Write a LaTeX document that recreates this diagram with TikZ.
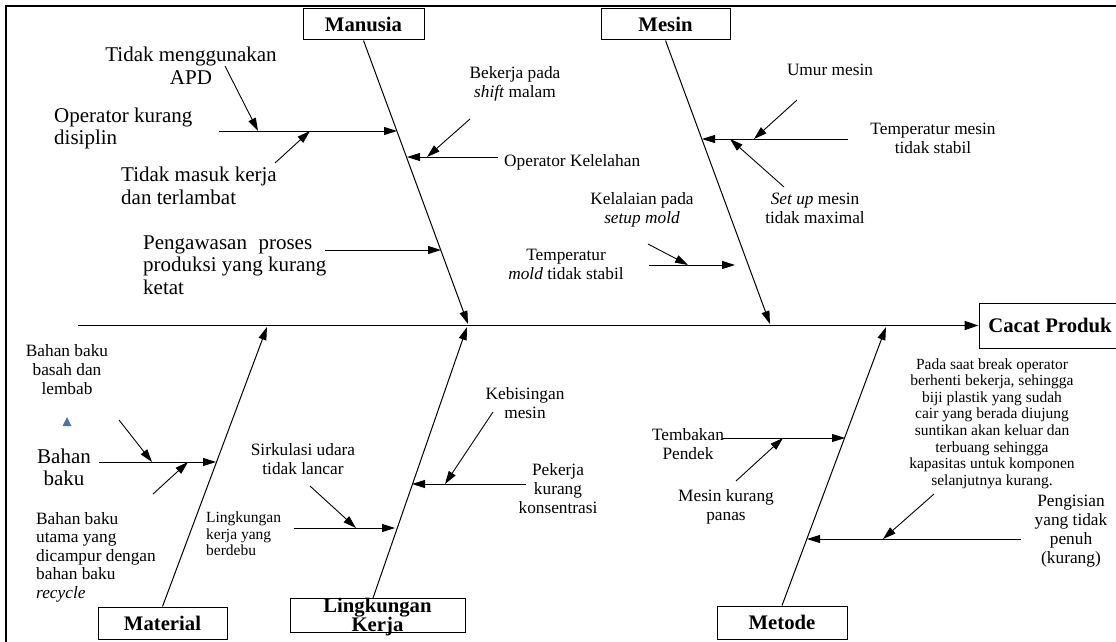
\documentclass[tikz,border=0pt]{standalone}
\usepackage{fontspec}
\setmainfont{Liberation Serif}
\usetikzlibrary{arrows.meta}
\definecolor{tri}{RGB}{68,114,196}
\begin{document}
\begin{tikzpicture}[x=1pt,y=-1pt,
  big/.style={inner sep=0pt,font=\fontsize{21}{22.5}\selectfont},
  med/.style={inner sep=0pt,font=\fontsize{17.3}{19}\selectfont},
  sml/.style={inner sep=0pt,font=\fontsize{15.5}{16.6}\selectfont},
  catbox/.style={draw,line width=1pt,inner sep=0pt,font=\bfseries\fontsize{20.7}{20}\selectfont},
  bone/.style={line width=1pt,-{Triangle[length=13pt,width=8pt]}},
  arr/.style={line width=0.9pt,-{Triangle[length=13pt,width=8pt]}},
  plain/.style={line width=0.9pt}
]
\useasboundingbox (0,0) rectangle (1116,642);
\clip (0,0) rectangle (1116,642);
% frame
\draw[line width=2.3pt] (1130,6.2) -- (6.2,6.2) -- (6.2,660);

% category boxes
\node[catbox,minimum width=121pt,minimum height=31pt] (man) at (363.5,24.5) {Manusia};
\node[catbox,minimum width=129pt,minimum height=31pt] (mes) at (665.5,24.5) {Mesin};
\node[catbox,minimum width=129pt,minimum height=32pt] (mat) at (162.5,623) {Material};
\node[draw,line width=1pt,inner sep=0pt,minimum width=175pt,minimum height=34pt] (lin) at (377.5,615) {};
\node[inner sep=0pt,align=center,font=\bfseries\fontsize{20.7}{19.5}\selectfont] (linT) at (377.5,617) {Lingkungan\\Kerja};
\node[catbox,minimum width=130pt,minimum height=33pt] (met) at (782,622.5) {Metode};
\node[catbox,minimum width=142pt,minimum height=45pt] (cacat) at (1050,325.5) {Cacat Produk};

% spine
\coordinate (sp0) at (78,325.5);
\draw[line width=1.8pt,-{Triangle[length=14pt,width=9pt]}] (sp0) -- (cacat.west);

% bones
\coordinate (manT) at (468,324);
\coordinate (mesT) at (770,324);
\coordinate (matT) at (267,327);
\coordinate (linB) at (373,598);
\coordinate (linTip) at (467,327);
\coordinate (metT) at (886,327);
\draw[bone] (man.south) -- (manT);
\draw[bone] (mes.south) -- (mesT);
\draw[bone] (mat.north) -- (matT);
\draw[bone] (linB) -- (linTip);
\draw[bone] (met.north) -- (metT);

% ---------- Manusia ----------
\node[big,align=center] (t1) at (191,65.5) {Tidak menggunakan\\APD};
\node[big,align=left,anchor=west] (t2) at (54,128.5) {Operator kurang\\disiplin};
\node[big,align=left,anchor=west] (t3) at (121,186) {Tidak masuk kerja\\dan terlambat};
\node[big,align=left,anchor=west] (t4) at (143,265) {Pengawasan\hspace{0.55em}proses\\produksi yang kurang\\ketat};
\node[med,align=center] (t5) at (515,84) {Bekerja pada\\\textit{shift} malam};
\node[med,anchor=west] (t6) at (504,162.5) {Operator Kelelahan};

\coordinate (a1s) at (219,131); \coordinate (a1e) at (397,131);
\coordinate (a2s) at (225,66);  \coordinate (a2e) at (258,131);
\coordinate (a3s) at (275,163); \coordinate (a3e) at (310,131);
\coordinate (a4s) at (325,250); \coordinate (a4e) at (441,250);
\coordinate (a5s) at (498,157); \coordinate (a5e) at (407,157);
\coordinate (a6s) at (470,119); \coordinate (a6e) at (427,157);
\draw[arr] (a1s) -- (a1e);
\draw[arr] (a2s) -- (a2e);
\draw[arr] (a3s) -- (a3e);
\draw[arr] (a4s) -- (a4e);
\draw[arr] (a5s) -- (a5e);
\draw[arr] (a6s) -- (a6e);

% ---------- Mesin ----------
\node[med] (u1) at (830,69.5) {Umur mesin};
\node[med,align=center] (u2) at (933,138) {Temperatur mesin\\tidak stabil};
\node[med,align=center] (u3) at (815,208) {\textit{Set up} mesin\\tidak maximal};
\node[med,align=center] (u4) at (642,209.5) {Kelalaian pada\\\textit{setup mold}};
\node[med,align=center] (u5) at (566,264) {Temperatur\\\textit{mold} tidak stabil};

\coordinate (b1s) at (848,139); \coordinate (b1e) at (702,139);
\coordinate (b2s) at (797,100); \coordinate (b2e) at (754,139);
\coordinate (b3s) at (784,187); \coordinate (b3e) at (730,139);
\coordinate (b4s) at (649,265); \coordinate (b4e) at (735,265);
\coordinate (b5s) at (648,244); \coordinate (b5e) at (688,265);
\draw[arr] (b1s) -- (b1e);
\draw[arr] (b2s) -- (b2e);
\draw[arr] (b3s) -- (b3e);
\draw[arr] (b4s) -- (b4e);
\draw[arr] (b5s) -- (b5e);

% ---------- Material ----------
\node[med,align=center] (m1) at (67,370) {Bahan baku\\basah dan\\lembab};
\fill[tri] (67,417) -- (71.5,426) -- (62.5,426) -- cycle;
\node[big,align=center] (m2) at (64,467.5) {Bahan\\baku};
\node[med,align=left,anchor=west,font=\fontsize{17.3}{18.5}\selectfont] (m3) at (36,557) {Bahan baku\\utama yang\\dicampur dengan\\bahan baku\\\textit{recycle}};

\coordinate (c1s) at (99,462);  \coordinate (c1e) at (216,462);
\coordinate (c2s) at (119,420); \coordinate (c2e) at (152,462);
\coordinate (c3s) at (153,494); \coordinate (c3e) at (188,462);
\draw[arr] (c1s) -- (c1e);
\draw[arr] (c2s) -- (c2e);
\draw[arr] (c3s) -- (c3e);

% ---------- Lingkungan Kerja ----------
\node[med,align=center] (l1) at (303,459) {Sirkulasi udara\\tidak lancar};
\node[sml,align=left,anchor=west] (l2) at (206,534) {Lingkungan\\kerja yang\\berdebu};
\node[med,align=center] (l3) at (525,403) {Kebisingan\\mesin};
\node[med,align=center] (l4) at (558,488.5) {Pekerja\\kurang\\konsentrasi};

\coordinate (d1s) at (294,528); \coordinate (d1e) at (395,528);
\coordinate (d2s) at (310,486); \coordinate (d2e) at (356,528);
\coordinate (d3s) at (526,484); \coordinate (d3e) at (412,484);
\coordinate (d4s) at (493,412); \coordinate (d4e) at (445,484);
\draw[arr] (d1s) -- (d1e);
\draw[arr] (d2s) -- (d2e);
\draw[arr] (d3s) -- (d3e);
\draw[arr] (d4s) -- (d4e);

% ---------- Metode ----------
\node[med,align=center] (e1) at (688,444.5) {Tembakan\\Pendek};
\node[med,align=center] (e2) at (726,507) {Mesin kurang\\panas};
\node[sml,align=center] (e3) at (992,423.5) {Pada saat break operator\\berhenti bekerja, sehingga\\biji plastik yang sudah\\cair yang berada diujung\\suntikan akan keluar dan\\terbuang sehingga\\kapasitas untuk komponen\\selanjutnya kurang.};
\node[med,align=center] (e4) at (1071,531) {Pengisian\\yang tidak\\penuh\\(kurang)};

\coordinate (f1s) at (722,438); \coordinate (f1e) at (845,438);
\coordinate (f2s) at (736,481); \coordinate (f2e) at (783,438);
\coordinate (f3s) at (1021,539); \coordinate (f3e) at (807,539);
\coordinate (f4s) at (934,494); \coordinate (f4e) at (883,539);
\draw[arr] (f1s) -- (f1e);
\draw[arr] (f2s) -- (f2e);
\draw[arr] (f3s) -- (f3e);
\draw[arr] (f4s) -- (f4e);
\end{tikzpicture}
\end{document}
